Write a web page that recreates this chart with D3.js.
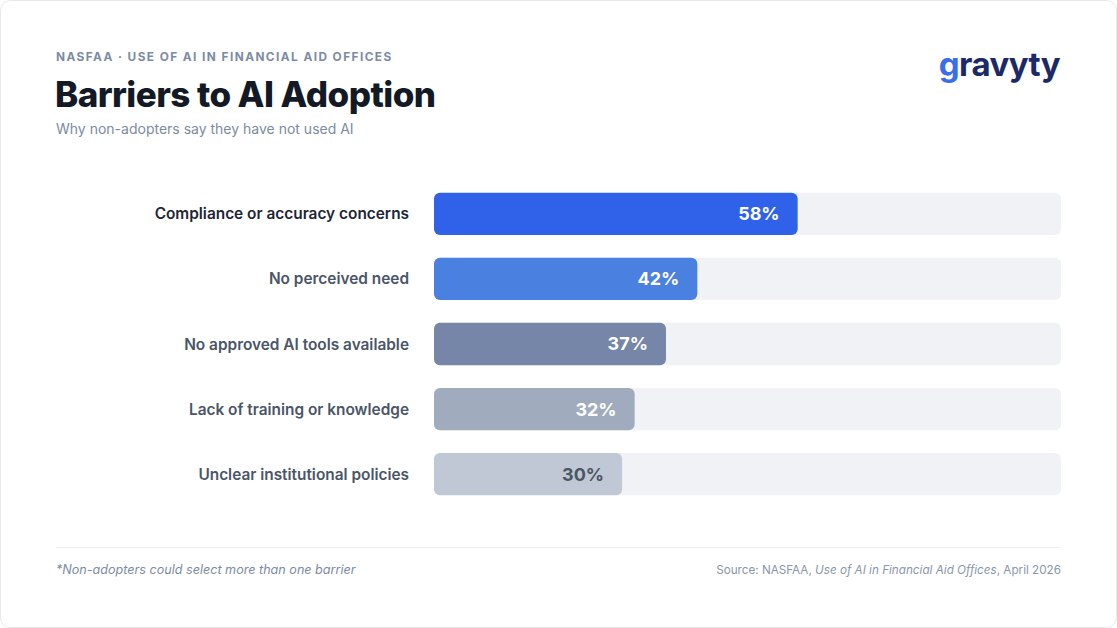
<!DOCTYPE html>
<html>
<head>
<meta charset="utf-8">
<script src="https://cdn.jsdelivr.net/npm/d3@7"></script>
<style>
  html, body { margin: 0; padding: 0; background: #fff; }
  svg { display: block; font-family: Inter, "Noto Sans", sans-serif; }
</style>
</head>
<body>
<svg id="chart" width="1117" height="628"></svg>
<script>
// data
const barriers = [
  "Compliance or accuracy concerns",
  "No perceived need",
  "No approved AI tools available",
  "Lack of training or knowledge",
  "Unclear institutional policies"
];
const shares = [58, 42, 37, 32, 30];
const barColors = ["#2f62e8", "#4a80e0", "#7586a8", "#a0abbd", "#c0c8d5"];
const valueColors = ["#ffffff", "#ffffff", "#ffffff", "#ffffff", "#4b5563"];

const rows = barriers.map((b, i) => ({ name: b, value: shares[i], i: i }));

const svg = d3.select("#chart");
const W = 1117, H = 628;

// card edge
svg.append("rect")
  .attr("x", 0.5).attr("y", 0.5)
  .attr("width", W - 1).attr("height", H - 1)
  .attr("rx", 10)
  .attr("fill", "#fff")
  .attr("stroke", "#e6e8ec");

// header
svg.append("text")
  .attr("x", 56).attr("y", 61)
  .attr("font-size", 11.8).attr("font-weight", 700)
  .attr("letter-spacing", 1.45)
  .attr("fill", "#7c8ba3")
  .text("NASFAA · USE OF AI IN FINANCIAL AID OFFICES");

svg.append("text")
  .attr("x", 55).attr("y", 107)
  .attr("font-size", 35).attr("font-weight", 800)
  .attr("letter-spacing", -0.55)
  .attr("fill", "#131a26")
  .text("Barriers to AI Adoption");

svg.append("text")
  .attr("x", 56).attr("y", 134)
  .attr("font-size", 14)
  .attr("fill", "#7c8ba3")
  .text("Why non-adopters say they have not used AI");

// logo
const logo = svg.append("text")
  .attr("x", 1060).attr("y", 76)
  .attr("text-anchor", "end")
  .attr("font-size", 33).attr("font-weight", 700)
  .attr("letter-spacing", -0.6);
logo.append("tspan").attr("fill", "#3a6fe8").text("g");
logo.append("tspan").attr("fill", "#1b2a66").text("ravyty");

// scales
const x = d3.scaleLinear().domain([0, 100]).range([434, 1061]);
const y = d3.scaleBand()
  .domain(rows.map(d => d.name))
  .range([183, 505])
  .paddingInner(0.35)
  .paddingOuter(0.15);

const g = svg.append("g");

// tracks
g.selectAll("rect.track")
  .data(rows).enter().append("rect")
  .attr("class", "track")
  .attr("x", x(0)).attr("y", d => y(d.name))
  .attr("width", x(100) - x(0)).attr("height", y.bandwidth())
  .attr("rx", 6)
  .attr("fill", "#f0f2f6");

// bars
g.selectAll("rect.bar")
  .data(rows).enter().append("rect")
  .attr("class", "bar")
  .attr("x", x(0)).attr("y", d => y(d.name))
  .attr("width", d => x(d.value) - x(0)).attr("height", y.bandwidth())
  .attr("rx", 6)
  .attr("fill", d => barColors[d.i]);

// value labels
g.selectAll("text.val")
  .data(rows).enter().append("text")
  .attr("class", "val")
  .attr("x", d => x(d.value) - 18)
  .attr("y", d => y(d.name) + y.bandwidth() / 2)
  .attr("dy", "0.36em")
  .attr("text-anchor", "end")
  .attr("font-size", 18).attr("font-weight", 700)
  .attr("fill", d => valueColors[d.i])
  .text(d => d.value + "%");

// category labels
g.selectAll("text.cat")
  .data(rows).enter().append("text")
  .attr("class", "cat")
  .attr("x", 409)
  .attr("y", d => y(d.name) + y.bandwidth() / 2)
  .attr("dy", "0.36em")
  .attr("text-anchor", "end")
  .attr("font-size", 15.4).attr("font-weight", 600)
  .attr("fill", d => d.i === 0 ? "#1e2535" : "#4a5568")
  .text(d => d.name);

// footer
svg.append("line")
  .attr("x1", 56).attr("x2", 1061)
  .attr("y1", 547.5).attr("y2", 547.5)
  .attr("stroke", "#eceef2");

svg.append("text")
  .attr("x", 56).attr("y", 574)
  .attr("font-size", 12.6).attr("font-style", "italic")
  .attr("fill", "#7c8ba3")
  .text("*Non-adopters could select more than one barrier");

const src = svg.append("text")
  .attr("x", 1061).attr("y", 574)
  .attr("text-anchor", "end")
  .attr("font-size", 11.7)
  .attr("fill", "#8a96aa");
src.append("tspan").text("Source: NASFAA, ");
src.append("tspan").attr("font-style", "italic").text("Use of AI in Financial Aid Offices");
src.append("tspan").text(", April 2026");
</script>
</body>
</html>
